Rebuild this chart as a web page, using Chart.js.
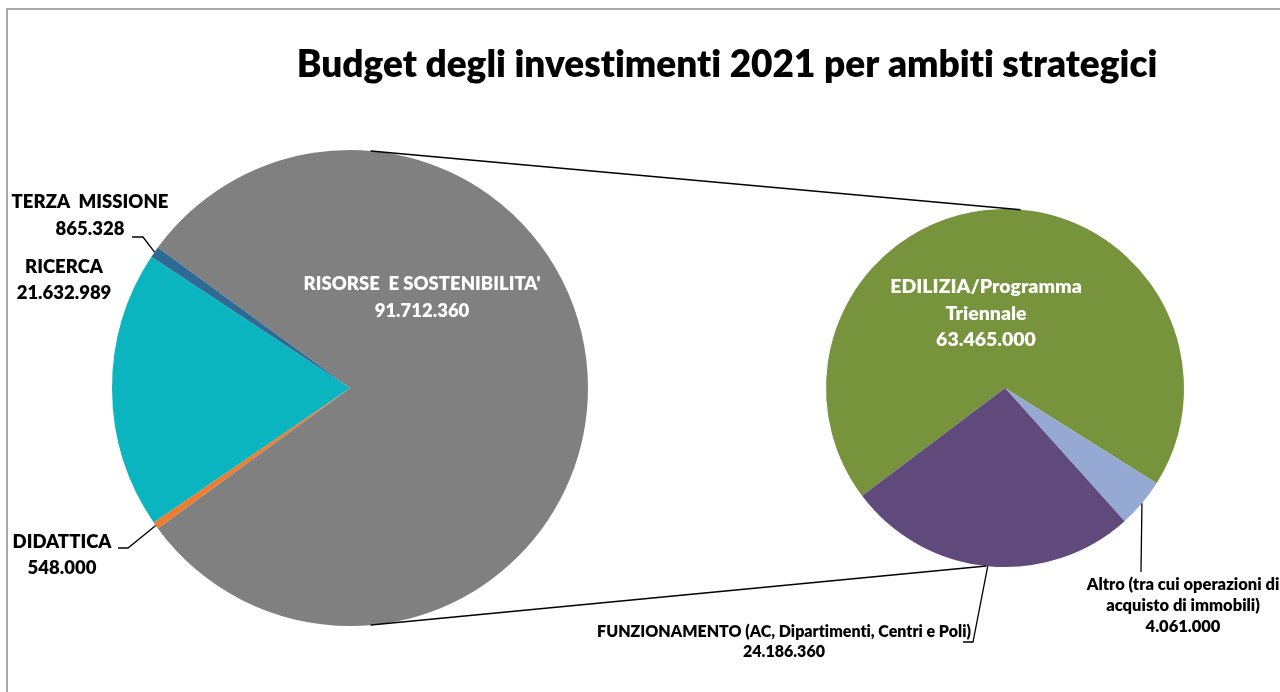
<!DOCTYPE html>
<html>
<head>
<meta charset="utf-8">
<title>Budget degli investimenti 2021</title>
<script src="https://cdn.jsdelivr.net/npm/chart.js@4.4.0/dist/chart.umd.min.js"></script>
<style>
  html, body { margin: 0; padding: 0; background: #fff; overflow: hidden; }
  #wrap { position: relative; width: 1280px; height: 692px; }
  #wrap canvas { position: absolute; left: 0; top: 0; }
  #frame {
    position: absolute; left: 6px; top: 8px; width: 1320px; height: 720px;
    border: 2px solid #a6a6a6; box-sizing: border-box;
  }
</style>
</head>
<body>
<div id="wrap">
  <div id="frame"></div>
  <canvas id="main" width="1280" height="692"></canvas>
  <canvas id="detail" width="1280" height="692"></canvas>
</div>
<script>
// ---- data -------------------------------------------------------------
const titleText = "Budget degli investimenti 2021 per ambiti strategici";

// first pie: strategic areas (the grey slice is broken down in the second pie)
const mainCategories = [
  ["RISORSE  E SOSTENIBILITA'"],
  ["DIDATTICA"],
  ["RICERCA"],
  ["TERZA  MISSIONE"],
];
const mainValues = [91712360, 548000, 21632989, 865328];
const mainColors = ["#808080", "#ed7d31", "#0bb5c0", "#2e6a94"];

// second pie: breakdown of RISORSE E SOSTENIBILITA'
const detailCategories = [
  ["EDILIZIA/Programma", "Triennale"],
  ["Altro (tra cui operazioni di", "acquisto di immobili)"],
  ["FUNZIONAMENTO (AC, Dipartimenti, Centri e Poli)"],
];
const detailValues = [63465000, 4061000, 24186360];
const detailColors = ["#77933c", "#95a9d3", "#604a7b"];

// ---- helpers ----------------------------------------------------------
const FONT = "Lato, 'Liberation Sans', sans-serif";
const WEIGHT = 800;

function fmt(n) {
  return String(n).replace(/\B(?=(\d{3})+(?!\d))/g, ".");
}

// Lato joins "ti" into a ligature; a zero-width non-joiner keeps the letters apart
function noLig(t) {
  return t.replace(/ti/g, "t\u200Ci");
}

// label placement, relative to each pie's centre
const mainLabelLayout = [
  { dx: 72, dy: -104, gap: 27, size: 18.5, color: "#fff" },
  { dx: -288, dy: 154, gap: 26, size: 18.5, color: "#000", leader: { from: [-232, 160], tick: 10 } },
  { dx: -286, dy: -121, gap: 26, size: 18.5, color: "#000" },
  { dx: -260, dy: -186, gap: 27, size: 18.5, color: "#000", leader: { from: [-218, -151], tick: 11 } },
];
const detailLabelLayout = [
  { dx: -19, dy: -101, gap: 26.5, size: 19.5, color: "#fff" },
  { dx: 178, dy: 197, gap: 21, size: 16.5, color: "#000", leader: { from: [136, 184], tick: 0 } },
  { dx: -221, dy: 244, gap: 20, size: 16, color: "#000", leader: { from: [-42, 254], tick: 10 } },
];

// draws "name / value" labels and leader lines for every slice
const sliceLabels = {
  id: "sliceLabels",
  afterDatasetsDraw(chart, args, opts) {
    const { ctx } = chart;
    const arcs = chart.getDatasetMeta(0).data;
    const labels = chart.data.labels;
    const values = chart.data.datasets[0].data;
    ctx.save();
    opts.layout.forEach((lay, i) => {
      const arc = arcs[i];
      const cx = arc.x, cy = arc.y;
      const lines = [...labels[i], fmt(values[i])];
      ctx.fillStyle = lay.color;
      ctx.font = `${WEIGHT} ${lay.size}px ${FONT}`;
      ctx.textAlign = "center";
      ctx.textBaseline = "middle";
      lines.forEach((t, k) => ctx.fillText(noLig(t), cx + lay.dx, cy + lay.dy + k * lay.gap));

      if (lay.leader) {
        const mid = (arc.startAngle + arc.endAngle) / 2;
        const ex = cx + Math.cos(mid) * arc.outerRadius;
        const ey = cy + Math.sin(mid) * arc.outerRadius;
        const sx = cx + lay.leader.from[0], sy = cy + lay.leader.from[1];
        ctx.strokeStyle = "#000";
        ctx.lineWidth = 1.3;
        ctx.beginPath();
        ctx.moveTo(sx, sy);
        ctx.lineTo(sx + lay.leader.tick, sy);
        ctx.lineTo(ex, ey);
        ctx.stroke();
      }
    });
    ctx.restore();
  },
};

const chartTitle = {
  id: "chartTitle",
  afterDraw(chart) {
    const { ctx } = chart;
    ctx.save();
    ctx.fillStyle = "#000";
    ctx.font = `${WEIGHT} 37px ${FONT}`;
    ctx.textAlign = "center";
    ctx.textBaseline = "middle";
    ctx.fillText(noLig(titleText), 727, 65);
    ctx.restore();
  },
};

// ---- first pie ----------------------------------------------------------
const mainTotal = mainValues.reduce((a, b) => a + b, 0);
const splitHalf = (mainValues[0] / mainTotal) * 180; // grey slice centred on the right

const mainChart = new Chart(document.getElementById("main"), {
  type: "pie",
  data: {
    labels: mainCategories,
    datasets: [{
      data: mainValues,
      backgroundColor: mainColors,
      borderWidth: 0,
      hoverOffset: 0,
    }],
  },
  plugins: [sliceLabels, chartTitle],
  options: {
    responsive: false,
    animation: false,
    events: [],
    rotation: 90 - splitHalf,
    radius: 238,
    layout: { padding: { left: 112, right: 692, top: 150, bottom: 66 } },
    plugins: {
      legend: { display: false },
      tooltip: { enabled: false },
      sliceLabels: { layout: mainLabelLayout },
    },
  },
});

// lines joining the grey slice to the second pie
const connectors = {
  id: "connectors",
  afterDraw(chart) {
    const a = mainChart.getDatasetMeta(0).data[0];
    const b = chart.getDatasetMeta(0).data[0];
    const deg = Math.PI / 180;
    const pairs = [[-85, -85], [85, 96]];
    const { ctx } = chart;
    ctx.save();
    ctx.strokeStyle = "#000";
    ctx.lineWidth = 1.5;
    pairs.forEach(([pa, pb]) => {
      ctx.beginPath();
      ctx.moveTo(a.x + Math.cos(pa * deg) * a.outerRadius, a.y + Math.sin(pa * deg) * a.outerRadius);
      ctx.lineTo(b.x + Math.cos(pb * deg) * b.outerRadius, b.y + Math.sin(pb * deg) * b.outerRadius);
      ctx.stroke();
    });
    ctx.restore();
  },
};

// ---- second pie ---------------------------------------------------------
new Chart(document.getElementById("detail"), {
  type: "pie",
  data: {
    labels: detailCategories,
    datasets: [{
      data: detailValues,
      backgroundColor: detailColors,
      borderWidth: 0,
      hoverOffset: 0,
    }],
  },
  plugins: [sliceLabels, connectors],
  options: {
    responsive: false,
    animation: false,
    events: [],
    rotation: 233,
    radius: 179,
    layout: { padding: { left: 826, right: 96, top: 209, bottom: 125 } },
    plugins: {
      legend: { display: false },
      tooltip: { enabled: false },
      sliceLabels: { layout: detailLabelLayout },
    },
  },
});
</script>
</body>
</html>
